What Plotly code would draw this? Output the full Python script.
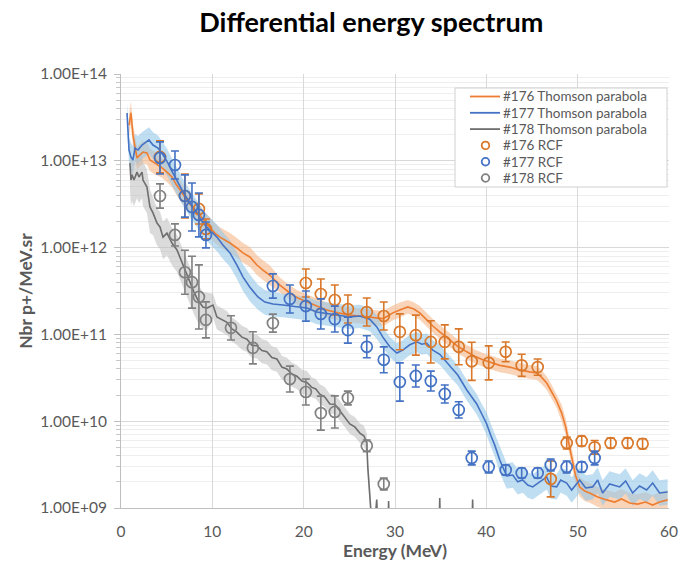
import plotly.graph_objects as go

# ---------------- data ----------------
tp176_E = [0.88,1.09,1.31,1.53,1.75,2.08,2.41,2.84,3.17,3.72,4.49,5.03,5.58,6.02,6.46,7.22,7.88,8.64,9.19,9.74,
           10.28,10.83,11.38,11.93,12.69,13.35,14.11,14.88,15.54,16.30,17.40,18.49,19.37,20.35,21.44,22.54,23.74,25.05,26.15,26.91,
           27.79,28.67,29.21,29.76,30.53,31.40,32.06,32.71,33.48,34.14,34.90,36.00,36.87,37.86,38.73,39.61,40.59,41.47,42.56,43.65,
           44.75,45.51,46.06,46.61,47.16,47.70,48.25,48.69,49.12,49.45,49.78,50.22,50.77,51.31,52.19,53.17,54.05,54.81,55.69,56.56,
           57.44,58.21,58.97,59.85]
tp176_N = [2.58e13,3.56e13,1.98e13,1.52e13,1.08e13,1.17e13,1.26e13,1.23e13,1.02e13,9.4e12,8.3e12,7.4e12,6.5e12,5.4e12,4.6e12,3.53e12,2.86e12,2.38e12,1.97e12,1.68e12,
           1.47e12,1.32e12,1.22e12,1.13e12,9.9e11,8.7e11,7.8e11,6.3e11,5.5e11,4.8e11,3.7e11,3.0e11,2.62e11,2.36e11,2.12e11,1.91e11,1.77e11,1.67e11,1.63e11,1.59e11,
           1.55e11,1.52e11,1.63e11,1.77e11,1.91e11,2.07e11,1.96e11,1.77e11,1.47e11,1.25e11,1.07e11,8.6e10,7.3e10,6.3e10,5.6e10,5.1e10,4.7e10,4.4e10,4.2e10,3.9e10,
           3.7e10,3.6e10,3.2e10,2.75e10,2.17e10,1.71e10,1.24e10,8.6e9,5.0e9,3.4e9,2.34e9,1.75e9,1.57e9,1.49e9,1.34e9,1.24e9,1.17e9,1.27e9,1.14e9,1.11e9,
           1.17e9,1.08e9,1.17e9,1.24e9]
tp176_up = [1.35,1.35,1.35,1.35,1.35,1.35,1.35,1.35,1.35,1.35,1.3,1.3,1.3,1.3,1.3,1.3,1.3,1.3,1.3,1.3,
            1.3,1.3,1.3,1.3,1.3,1.3,1.3,1.3,1.3,1.3,1.22,1.22,1.22,1.22,1.22,1.22,1.22,1.22,1.22,1.22,
            1.22,1.22,1.22,1.22,1.22,1.2,1.2,1.2,1.2,1.2,1.2,1.2,1.2,1.2,1.2,1.2,1.2,1.2,1.2,1.2,
            1.2,1.2,1.2,1.2,1.2,1.2,1.25,1.25,1.25,1.25,1.25,1.3,1.3,1.3,1.3,1.3,1.3,1.3,1.3,1.3,
            1.3,1.3,1.3,1.3]
tp176_dn = tp176_up

tp177_E = [0.66,0.77,0.88,1.09,1.31,1.53,1.86,2.30,2.84,3.06,3.50,4.05,4.60,5.14,5.69,6.24,6.78,7.55,8.32,8.97,
           9.74,10.50,11.16,11.93,12.69,13.35,14.11,14.99,15.75,16.63,17.72,19.26,20.35,21.44,22.87,23.96,25.05,26.15,27.24,28.01,
           28.67,29.43,30.20,30.85,31.62,32.39,32.93,33.48,34.14,34.90,36.00,36.87,37.86,38.95,39.50,40.04,40.48,40.92,41.47,42.23,
           42.89,43.44,43.98,44.53,45.08,45.84,46.61,47.05,47.70,48.14,48.80,49.34,50.22,50.88,51.64,52.19,52.73,53.50,54.60,55.25,
           56.02,56.78,57.55,58.21,58.97,59.85]
tp177_N = [3.56e13,2.09e13,1.33e13,1.11e13,1.02e13,1.40e13,1.33e13,1.52e13,1.65e13,1.74e13,1.52e13,1.40e13,1.17e13,9.4e12,7.2e12,5.5e12,4.4e12,3.27e12,2.51e12,1.92e12,
           1.60e12,1.32e12,1.07e12,8.7e11,6.3e11,4.6e11,3.5e11,2.70e11,2.36e11,2.24e11,2.18e11,2.07e11,2.01e11,1.81e11,1.72e11,1.67e11,1.59e11,1.63e11,1.50e11,1.22e11,
           9.3e10,7.2e10,6.1e10,6.6e10,7.6e10,8.2e10,7.7e10,7.9e10,6.6e10,5.9e10,4.3e10,3.4e10,2.29e10,1.58e10,1.21e10,9.3e9,6.9e9,5.3e9,3.57e9,2.34e9,
           2.4e9,2.0e9,2.1e9,1.84e9,1.75e9,2.0e9,2.28e9,1.79e9,1.75e9,2.1e9,1.94e9,1.61e9,2.1e9,1.70e9,1.75e9,2.1e9,1.49e9,1.89e9,1.75e9,2.05e9,
           1.49e9,1.79e9,1.61e9,1.94e9,1.49e9,1.53e9]
tp177_up = [1.3,1.35,1.4,1.45,1.45,1.45,1.45,1.4,1.4,1.4,1.4,1.4,1.4,1.4,1.4,1.4,1.4,1.4,1.4,1.4,
            1.4,1.4,1.4,1.4,1.4,1.4,1.4,1.38,1.38,1.38,1.35,1.35,1.35,1.35,1.35,1.35,1.35,1.35,1.35,1.35,
            1.3,1.3,1.3,1.3,1.3,1.3,1.3,1.3,1.3,1.3,1.3,1.3,1.3,1.3,1.3,1.35,1.35,1.35,1.4,1.4,
            1.4,1.4,1.4,1.4,1.4,1.4,1.4,1.4,1.4,1.4,1.4,1.4,1.4,1.4,1.4,1.4,1.4,1.4,1.4,1.4,
            1.4,1.4,1.4,1.4,1.4,1.4]
tp177_dn = [1.45,1.45,1.45,1.45,1.45,1.45,1.45,1.45,1.45,1.45,1.45,1.45,1.45,1.45,1.45,1.45,1.45,1.45,1.45,1.45,
            1.45,1.45,1.45,1.45,1.45,1.45,1.45,1.4,1.4,1.4,1.38,1.38,1.38,1.38,1.38,1.38,1.38,1.38,1.38,1.38,
            1.32,1.32,1.32,1.32,1.32,1.32,1.32,1.32,1.32,1.32,1.32,1.32,1.32,1.32,1.32,1.35,1.35,1.35,1.4,1.4,
            1.4,1.4,1.4,1.4,1.4,1.4,1.4,1.4,1.4,1.4,1.4,1.4,1.4,1.4,1.4,1.4,1.4,1.4,1.4,1.4,
            1.4,1.4,1.4,1.4,1.4,1.4]

tp178_E = [0.98,1.09,1.20,1.42,1.75,1.97,2.30,2.41,2.84,3.17,3.50,3.94,4.27,4.60,5.03,5.58,6.13,6.67,7.11,7.55,
           7.99,8.42,8.97,9.41,10.07,10.50,11.05,11.60,12.14,12.69,13.24,13.79,14.33,14.88,15.43,15.97,16.52,17.07,17.61,18.16,
           18.71,19.26,19.80,20.35,20.90,21.33,21.77,22.32,22.87,23.41,23.96,24.51,25.05,25.60,26.15,26.59,26.91,27.02,27.24,27.35,
           27.6,28.0,28.2,29.2,29.3,29.4,34.8,34.9,35.0,38.4,38.5,38.6]
tp178_N = [9.4e12,6.0e12,6.9e12,6.0e12,7.4e12,6.5e12,7.4e12,6.0e12,4.99e12,2.94e12,2.51e12,1.92e12,1.73e12,1.32e12,1.47e12,1.13e12,9.4e11,6.8e11,5.2e11,3.91e11,
           3.07e11,2.49e11,2.07e11,2.01e11,2.18e11,1.59e11,1.47e11,1.38e11,1.16e11,1.06e11,9.3e10,8.8e10,7.5e10,7.4e10,6.5e10,6.3e10,5.4e10,5.2e10,4.2e10,4.0e10,
           3.5e10,3.3e10,2.9e10,2.8e10,2.45e10,2.35e10,2.05e10,1.9e10,1.58e10,1.57e10,1.32e10,1.12e10,9.3e9,8.6e9,7.3e9,6.8e9,5.6e9,2.97e9,1.61e9,1.03e9,
           4e8,1.25e9,4e8,4e8,1.2e9,4e8,4e8,1.3e9,4e8,4e8,1.25e9,4e8]
tp178_up = [1.6,1.6,1.6,1.6,1.6,1.6,1.6,1.6,1.6,1.6,1.5,1.5,1.5,1.5,1.5,1.5,1.5,1.5,1.5,1.5,
            1.5,1.5,1.5,1.5,1.35,1.35,1.35,1.35,1.35,1.35,1.35,1.35,1.35,1.35,1.35,1.35,1.35,1.35,1.35,1.35,
            1.35,1.35,1.35,1.35,1.3,1.3,1.3,1.3,1.3,1.3,1.3,1.3,1.3,1.3,1.3,1.3,1.3,1.3,1.3,1.3,
            1.0,1.0,1.0,1.0,1.0,1.0,1.0,1.0,1.0,1.0,1.0,1.0]
tp178_dn = [2.0,2.0,2.0,2.0,2.0,2.0,2.0,2.0,2.0,2.0,1.8,1.8,1.8,1.8,1.8,1.8,1.8,1.8,1.8,1.8,
            1.8,1.8,1.8,1.8,1.4,1.4,1.4,1.4,1.4,1.4,1.4,1.4,1.4,1.4,1.4,1.4,1.4,1.4,1.4,1.4,
            1.4,1.4,1.4,1.4,1.3,1.3,1.3,1.3,1.3,1.3,1.3,1.3,1.3,1.3,1.3,1.3,1.3,1.3,1.3,1.3,
            1.0,1.0,1.0,1.0,1.0,1.0,1.0,1.0,1.0,1.0,1.0,1.0]

rcf176_E = [4.27,7.00,8.53,9.30,20.24,21.88,23.41,24.84,26.91,28.77,30.53,32.28,33.92,35.45,36.98,38.40,40.26,42.12,43.87,45.62,
            47.05,48.80,50.44,51.86,53.61,55.47,57.11]
rcf176_N = [1.11e13,3.93e12,2.79e12,1.64e12,3.91e11,2.92e11,2.49e11,1.96e11,1.81e11,1.63e11,1.07e11,9.8e10,8.2e10,8.2e10,7.2e10,4.9e10,4.7e10,6.3e10,4.4e10,4.2e10,
            2.16e9,5.6e9,5.9e9,5.0e9,5.6e9,5.6e9,5.5e9]
rcf176_err = [1.53,1.79,1.49,1.30,1.45,1.49,1.49,1.45,1.45,1.45,1.61,1.70,1.75,1.57,1.61,1.66,1.57,1.30,1.34,1.24,
              1.61,1.17,1.14,1.20,1.14,1.14,1.14]

rcf177_E = [4.27,5.91,7.00,7.77,8.53,9.30,16.63,18.49,20.24,21.88,23.41,24.84,26.91,28.77,30.53,32.28,33.92,35.45,36.98,38.40,
            40.26,42.12,43.87,45.62,47.05,48.80,50.44,51.86]
rcf177_N = [1.08e13,8.95e12,3.93e12,2.94e12,2.38e12,1.40e12,3.61e11,2.56e11,2.12e11,1.72e11,1.50e11,1.12e11,7.2e10,5.1e10,2.83e10,3.32e10,2.90e10,2.06e10,1.35e10,3.77e9,
            2.97e9,2.74e9,2.53e9,2.53e9,3.13e9,2.97e9,2.97e9,3.77e9]
rcf177_err = [1.53,1.45,1.75,1.89,1.79,1.41,1.38,1.45,1.49,1.49,1.41,1.41,1.34,1.41,1.66,1.34,1.30,1.27,1.24,1.20,
              1.17,1.14,1.14,1.14,1.17,1.17,1.14,1.20]

rcf178_E = [4.27,5.91,7.00,7.77,8.53,9.30,12.04,14.44,16.63,18.49,20.24,21.88,23.41,24.84,26.91,28.77]
rcf178_N = [3.93e12,1.40e12,5.2e11,4.0e11,2.70e11,1.47e11,1.19e11,7.0e10,1.35e11,3.06e10,2.17e10,1.24e10,1.28e10,1.85e10,5.2e9,1.89e9]
rcf178_err = [1.38,1.34,1.79,1.99,2.34,1.61,1.38,1.53,1.27,1.41,1.41,1.57,1.53,1.20,1.17,1.17]

y_tickvals = [1e9, 1e10, 1e11, 1e12, 1e13, 1e14]
y_ticktext = ["1.00E+09", "1.00E+10", "1.00E+11", "1.00E+12", "1.00E+13", "1.00E+14"]
x_ticks = [0, 10, 20, 30, 40, 50, 60]

# ---------------- styles ----------------
FONT = "Lato"
GREY_TXT = "#595959"
series = [
    dict(name="#176 Thomson parabola", E=tp176_E, N=tp176_N, up=tp176_up, dn=tp176_dn,
         line="#ED7D31", band="rgba(245,183,136,0.6)"),
    dict(name="#177 Thomson parabola", E=tp177_E, N=tp177_N, up=tp177_up, dn=tp177_dn,
         line="#4472C4", band="rgba(150,200,232,0.6)"),
    dict(name="#178 Thomson parabola", E=tp178_E, N=tp178_N, up=tp178_up, dn=tp178_dn,
         line="#6E6E6E", band="rgba(190,190,190,0.55)"),
]
rcfs = [
    dict(name="#176 RCF", E=rcf176_E, N=rcf176_N, err=rcf176_err, color="#D9782A"),
    dict(name="#177 RCF", E=rcf177_E, N=rcf177_N, err=rcf177_err, color="#4472C4"),
    dict(name="#178 RCF", E=rcf178_E, N=rcf178_N, err=rcf178_err, color="#808080"),
]

# plot-area geometry (pixels) used for the hand-drawn legend
L, R, T, B = 121, 669, 74, 508
def px(x):
    return (x - L) / (R - L)
def py(y):
    return (B - y) / (B - T)

fig = go.Figure()

# bands
for s in series:
    hi = [v * k for v, k in zip(s["N"], s["up"])]
    lo = [v / k for v, k in zip(s["N"], s["dn"])]
    fig.add_trace(go.Scatter(x=s["E"], y=hi, mode="lines", line=dict(width=0),
                             showlegend=False, hoverinfo="skip"))
    fig.add_trace(go.Scatter(x=s["E"], y=lo, mode="lines", line=dict(width=0),
                             fill="tonexty", fillcolor=s["band"],
                             showlegend=False, hoverinfo="skip"))

# lines
for s in series:
    fig.add_trace(go.Scatter(x=s["E"], y=s["N"], mode="lines", name=s["name"],
                             line=dict(color=s["line"], width=1.6), showlegend=False))

# RCF points
for r in rcfs:
    plus = [v * k - v for v, k in zip(r["N"], r["err"])]
    minus = [v - v / k for v, k in zip(r["N"], r["err"])]
    fig.add_trace(go.Scatter(
        x=r["E"], y=r["N"], mode="markers", name=r["name"], showlegend=False,
        marker=dict(symbol="circle-open", size=11, color=r["color"],
                    line=dict(width=1.7, color=r["color"])),
        error_y=dict(type="data", symmetric=False, array=plus, arrayminus=minus,
                     color=r["color"], thickness=1.6, width=4),
    ))

# ---- legend (drawn by hand to match the compact Excel legend) ----
shapes = [dict(type="rect", xref="paper", yref="paper",
               x0=px(455), x1=px(667), y0=py(187), y1=py(88),
               fillcolor="white", line=dict(color="#D0D0D0", width=1), layer="above")]
annotations = []
row_y = [96.5, 112.8, 129.1, 145.4, 161.7, 178.0]
for i, s in enumerate(series):
    y = row_y[i]
    shapes.append(dict(type="line", xref="paper", yref="paper",
                       x0=px(470), x1=px(500), y0=py(y), y1=py(y),
                       line=dict(color=s["line"], width=1.8), layer="above"))
    annotations.append(dict(text=s["name"], xref="paper", yref="paper", x=px(501), y=py(y),
                            xanchor="left", yanchor="middle", showarrow=False,
                            font=dict(family=FONT, size=13.5, color=GREY_TXT)))
for j, r in enumerate(rcfs):
    y = row_y[3 + j]
    shapes.append(dict(type="circle", xref="paper", yref="paper",
                       xsizemode="pixel", ysizemode="pixel",
                       xanchor=px(485.5), yanchor=py(y), x0=-3.8, x1=3.8, y0=-3.8, y1=3.8,
                       line=dict(color=r["color"], width=1.8), layer="above"))
    annotations.append(dict(text=r["name"], xref="paper", yref="paper", x=px(501), y=py(y),
                            xanchor="left", yanchor="middle", showarrow=False,
                            font=dict(family=FONT, size=13.5, color=GREY_TXT)))

minor_vals = [m * d for d in [1e9, 1e10, 1e11, 1e12, 1e13] for m in range(2, 10)]

fig.update_layout(
    width=680, height=566,
    margin=dict(l=L, r=680 - R, t=T, b=566 - B, autoexpand=False),
    paper_bgcolor="white", plot_bgcolor="white",
    font=dict(family=FONT, color=GREY_TXT),
    title=dict(text="<b>Differential energy spectrum</b>", x=0.546, xref="container",
               xanchor="center", y=0.96, yref="container", yanchor="middle",
               font=dict(family=FONT, size=27, color="black")),
    showlegend=False,
    shapes=shapes,
    annotations=annotations,
)

fig.update_xaxes(
    range=[0, 60], tickmode="array", tickvals=x_ticks, automargin=False,
    showgrid=True, gridcolor="#D9D9D9", gridwidth=1,
    showline=True, linecolor="#BFBFBF", linewidth=1,
    zeroline=False, ticks="", ticklabelstandoff=9,
    tickfont=dict(family=FONT, size=15.5, color=GREY_TXT),
    title=dict(text="<b>Energy (MeV)</b>", font=dict(family=FONT, size=17.5, color=GREY_TXT), standoff=3),
)
fig.update_yaxes(
    type="log", range=[9, 14], automargin=False,
    tickmode="array", tickvals=y_tickvals, ticktext=y_ticktext,
    showgrid=True, gridcolor="#D9D9D9", gridwidth=1,
    showline=True, linecolor="#BFBFBF", linewidth=1,
    ticks="outside", ticklen=6, tickcolor="#BFBFBF", ticklabelstandoff=4,
    minor=dict(tickmode="array", tickvals=minor_vals, showgrid=True, gridcolor="#EEEEEE",
               ticks="outside", ticklen=4, tickcolor="#C8C8C8"),
    zeroline=False,
    tickfont=dict(family=FONT, size=15.5, color=GREY_TXT),
    title=dict(text="<b>Nbr p+/MeV.sr</b>", font=dict(family=FONT, size=17.5, color=GREY_TXT), standoff=3),
)

fig.write_html("out.html")
